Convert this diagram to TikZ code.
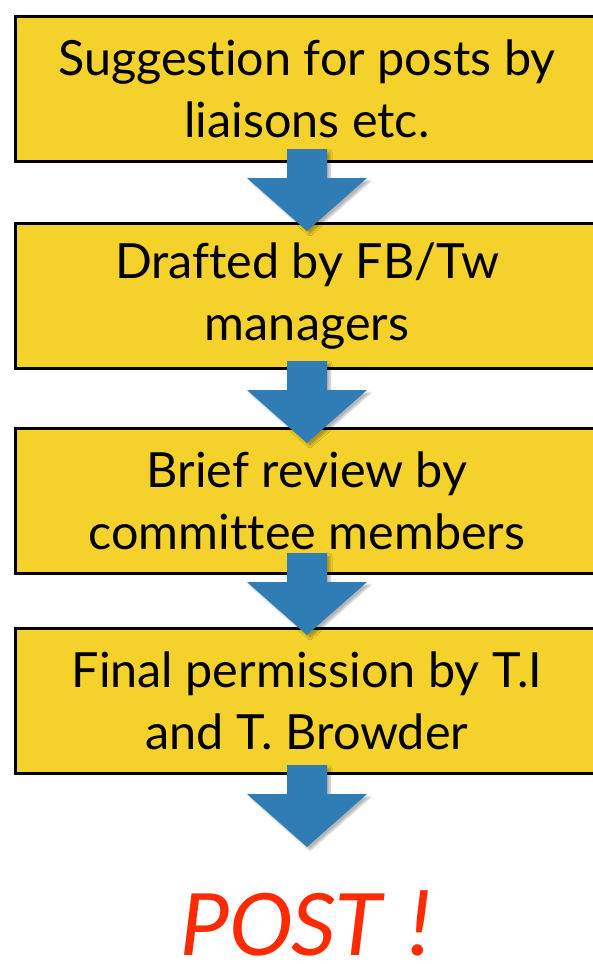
\documentclass[tikz,border=0pt]{standalone}
\usepackage{fontspec}
\setmainfont[Ligatures = NoCommon]{Lato}
\newfontfamily\postfont{Carlito}
\usepackage{xcolor}
\usetikzlibrary{positioning, shadows.blur}

\definecolor{boxyellow}{HTML}{F4D12B}
\definecolor{arrowblue}{HTML}{2F7DB4}
\definecolor{postred}{HTML}{FF2A00}

\begin{document}
\begin{tikzpicture} [x = 1pt, y = -1pt,
          stepbox/.style = {draw = black, line width = 3pt,
              fill = boxyellow, inner sep = 0pt,
              minimum width = 583pt, minimum height = 145pt,
              align = center, font = \fontsize{48.5}{62}\selectfont
          },
          downarrow/.style = {fill = arrowblue,
              blur shadow = {shadow xshift = 3pt, shadow yshift = -3pt,
                  shadow blur steps = 6, shadow opacity = 30}
          }
          ]
          \useasboundingbox (0,0) rectangle (593,964);

          % Steps
          \node (s1) [stepbox] at (307,89)  {Suggestion for posts by\\liaisons etc.};
          \node (s2) [stepbox] at (307,296) {Drafted by FB/Tw\\managers};
          \node (s3) [stepbox] at (307,501) {Brief review by\\committee members};
          \node (s4) [stepbox] at (307,701) {Final permission by T.I\\and T. Browder};

          % Result
          \node (post) [anchor = base, text = postred, inner sep = 0pt,
              font = \postfont\itshape\fontsize{96}{96}\selectfont] at (307,955) {POST !};

          % Arrows
          \coordinate (a1) at (307,149);
          \coordinate (a2) at (307,361);
          \coordinate (a3) at (307,553);
          \coordinate (a4) at (307,765);
          \foreach \a in {a1, a2, a3, a4}
            \fill [downarrow] (\a) ++(-20,0) -- ++(40,0) -- ++(0,29) -- ++(40,0)
              -- ++(-60,53) -- ++(-60,-53) -- ++(40,0) -- cycle;

        \end{tikzpicture}
\end{document}
